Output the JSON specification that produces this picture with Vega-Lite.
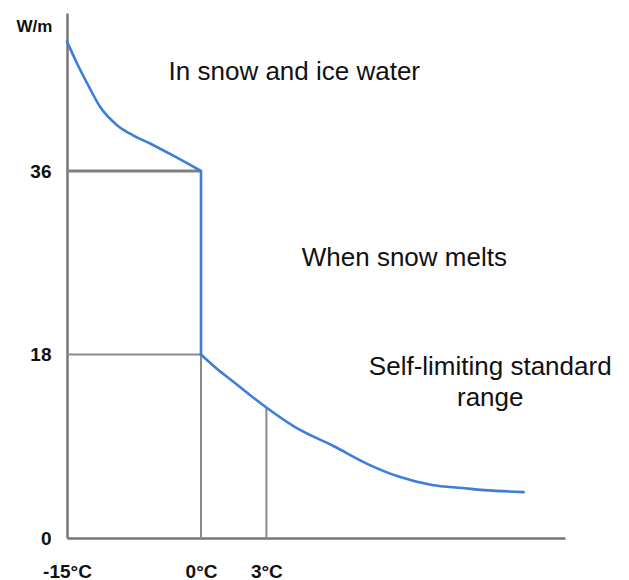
{
  "$schema": "https://vega.github.io/schema/vega-lite/v6.json",
  "autosize": "none",
  "width": 498,
  "height": 525,
  "padding": {"left": 67, "top": 13, "right": 64, "bottom": 42},
  "background": "white",
  "config": {
    "view": {"stroke": null},
    "font": "Liberation Sans",
    "axis": {
      "grid": false,
      "ticks": false,
      "domainColor": "#777777",
      "domainWidth": 2.5,
      "labelFont": "Liberation Sans",
      "labelFontSize": 19,
      "labelFontWeight": "bold",
      "labelColor": "#111111",
      "labelFlush": false
    }
  },
  "datasets": {
    "curve": [
      {"t": -15, "w": 48.7, "seg": "a"},
      {"t": -13.9, "w": 46.6, "seg": "a"},
      {"t": -12.5, "w": 44.2, "seg": "a"},
      {"t": -11.3, "w": 42.3, "seg": "a"},
      {"t": -9.4, "w": 40.5, "seg": "a"},
      {"t": -7.6, "w": 39.5, "seg": "a"},
      {"t": -5.7, "w": 38.7, "seg": "a"},
      {"t": -3.1, "w": 37.5, "seg": "a"},
      {"t": 0, "w": 36, "seg": "a"},
      {"t": 0, "w": 36, "seg": "b"},
      {"t": 0, "w": 18, "seg": "b"},
      {"t": 0, "w": 18, "seg": "c"},
      {"t": 0.73, "w": 16.6, "seg": "c"},
      {"t": 1.5, "w": 15.3, "seg": "c"},
      {"t": 2.26, "w": 14.0, "seg": "c"},
      {"t": 3, "w": 12.8, "seg": "c"},
      {"t": 4.3, "w": 10.9, "seg": "c"},
      {"t": 6.1, "w": 9.0, "seg": "c"},
      {"t": 7.6, "w": 7.3, "seg": "c"},
      {"t": 9.1, "w": 6.0, "seg": "c"},
      {"t": 10.6, "w": 5.2, "seg": "c"},
      {"t": 12.0, "w": 4.9, "seg": "c"},
      {"t": 13.0, "w": 4.7, "seg": "c"},
      {"t": 14.8, "w": 4.5, "seg": "c"}
    ],
    "thick": [
      {"t": -15, "t2": 0, "w": 36, "w2": 36}
    ],
    "thin": [
      {"t": -15, "t2": 0, "w": 18, "w2": 18},
      {"t": 0, "t2": 0, "w": 0, "w2": 18},
      {"t": 3, "t2": 3, "w": 0, "w2": 12.8}
    ],
    "notes": [
      {"t": 4.28, "w": 44.9, "label": ["In snow and ice water"]},
      {"t": 9.33, "w": 26.7, "label": ["When snow melts"]},
      {"t": 13.27, "w": 16.0, "label": ["Self-limiting standard", "range"]}
    ]
  },
  "encoding": {
    "x": {
      "field": "t",
      "type": "quantitative",
      "scale": {"domain": [-15, 0, 16.7], "range": [0, 134, 498], "zero": false, "nice": false, "clamp": false},
      "axis": {
        "values": [-15, 0, 3],
        "labelExpr": "datum.value + '°C'",
        "labelPadding": 24,
        "title": null
      }
    },
    "y": {
      "field": "w",
      "type": "quantitative",
      "scale": {"domain": [0, 51.5], "nice": false, "zero": true},
      "axis": {
        "values": [0, 18, 36],
        "labelPadding": 16,
        "title": "W/m",
        "titleAngle": 0,
        "titleAlign": "left",
        "titleBaseline": "alphabetic",
        "titleX": -51,
        "titleY": 18,
        "titleFont": "Liberation Sans",
        "titleFontSize": 17,
        "titleFontWeight": "bold",
        "titleColor": "#111111"
      }
    }
  },
  "layer": [
    {
      "data": {"name": "thin"},
      "mark": {"type": "rule", "color": "#8a8a8a", "strokeWidth": 2},
      "encoding": {
        "x2": {"field": "t2"},
        "y2": {"field": "w2"}
      }
    },
    {
      "data": {"name": "thick"},
      "mark": {"type": "rule", "color": "#808080", "strokeWidth": 3},
      "encoding": {
        "x2": {"field": "t2"},
        "y2": {"field": "w2"}
      }
    },
    {
      "data": {"name": "curve"},
      "mark": {"type": "line", "color": "#3d7fd8", "strokeWidth": 2.6, "interpolate": "monotone", "strokeJoin": "round", "strokeCap": "round"},
      "encoding": {
        "detail": {"field": "seg", "type": "nominal"}
      }
    },
    {
      "data": {"name": "notes"},
      "mark": {"type": "text", "font": "Liberation Sans", "fontSize": 26, "align": "center", "baseline": "alphabetic", "lineHeight": 31, "color": "#111111"},
      "encoding": {
        "text": {"field": "label"}
      }
    }
  ]
}
